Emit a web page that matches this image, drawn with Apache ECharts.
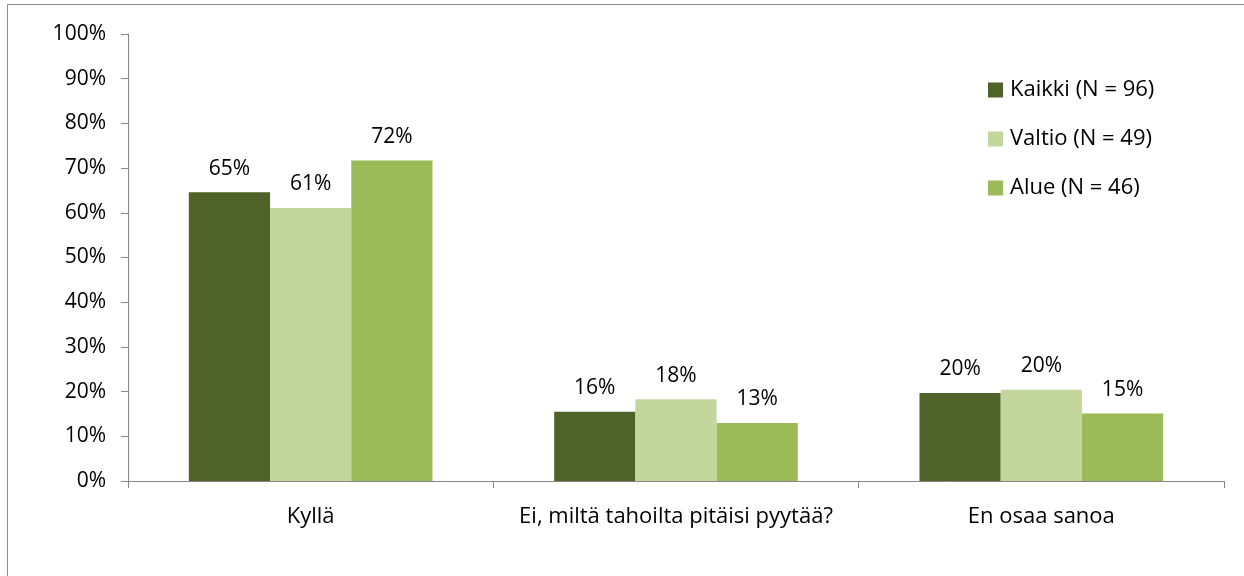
<!DOCTYPE html>
<html>
<head>
<meta charset="utf-8">
<script src="https://cdn.jsdelivr.net/npm/echarts@6/dist/echarts.min.js"></script>
<style>
html,body{margin:0;padding:0;background:#fff;overflow:hidden;}
#frame{position:absolute;left:7px;top:4px;width:1260px;height:600px;border:1.5px solid #8c8c8c;box-sizing:border-box;}
#chart{position:absolute;left:0;top:0;width:1244px;height:576px;}
</style>
</head>
<body>
<div id="frame"></div>
<div id="chart"></div>
<script>
const categories = ['Kyllä', 'Ei, miltä tahoilta pitäisi pyytää?', 'En osaa sanoa'];
const seriesNames = ['Kaikki (N = 96)', 'Valtio (N = 49)', 'Alue (N = 46)'];
const kaikki = [64.6, 15.5, 19.7];
const valtio = [61.1, 18.3, 20.4];
const alue = [71.7, 13.0, 15.1];
const yTicks = [0, 10, 20, 30, 40, 50, 60, 70, 80, 90, 100];

const colors = ['#4F6228', '#C3D69B', '#9BBB59'];
const font = '"Open Sans", "Noto Sans", sans-serif';
const chart = echarts.init(document.getElementById('chart'), null, {renderer: 'canvas'});
const mk = (name, data, i) => ({
  name, type: 'bar', data,
  barCategoryGap: '33.3%', barGap: '0%',
  itemStyle: {color: colors[i]},
  label: {show: true, position: 'top', distance: 13, color: '#000', fontFamily: font, fontSize: 21,
    formatter: p => Math.round(p.value) + '%'},
  animation: false
});
chart.setOption({
  animation: false,
  textStyle: {fontFamily: font},
  grid: {left: 128, right: 20, top: 34, bottom: 95, containLabel: false},
  legend: {
    orient: 'vertical', left: 983, top: 74, itemWidth: 15, itemHeight: 15, itemGap: 27,
    icon: 'rect', textStyle: {fontFamily: font, fontSize: 22, color: '#000', padding: [0, 0, 0, 2]},
    data: seriesNames
  },
  xAxis: {
    type: 'category', data: categories,
    axisLine: {lineStyle: {color: '#868686', width: 1}},
    axisTick: {show: true, length: 7, lineStyle: {color: '#868686'}},
    axisLabel: {color: '#000', fontFamily: font, fontSize: 22, margin: 25, interval: 0}
  },
  yAxis: {
    type: 'value', min: 0, max: 100, interval: 10,
    axisLine: {show: true, lineStyle: {color: '#868686', width: 1}},
    axisTick: {show: true, length: 7, lineStyle: {color: '#868686'}},
    splitLine: {show: false},
    axisLabel: {color: '#000', fontFamily: font, fontSize: 21, margin: 22,
      formatter: v => yTicks.includes(v) ? v + '%' : ''}
  },
  series: [mk(seriesNames[0], kaikki, 0), mk(seriesNames[1], valtio, 1), mk(seriesNames[2], alue, 2)]
});
</script>
</body>
</html>
